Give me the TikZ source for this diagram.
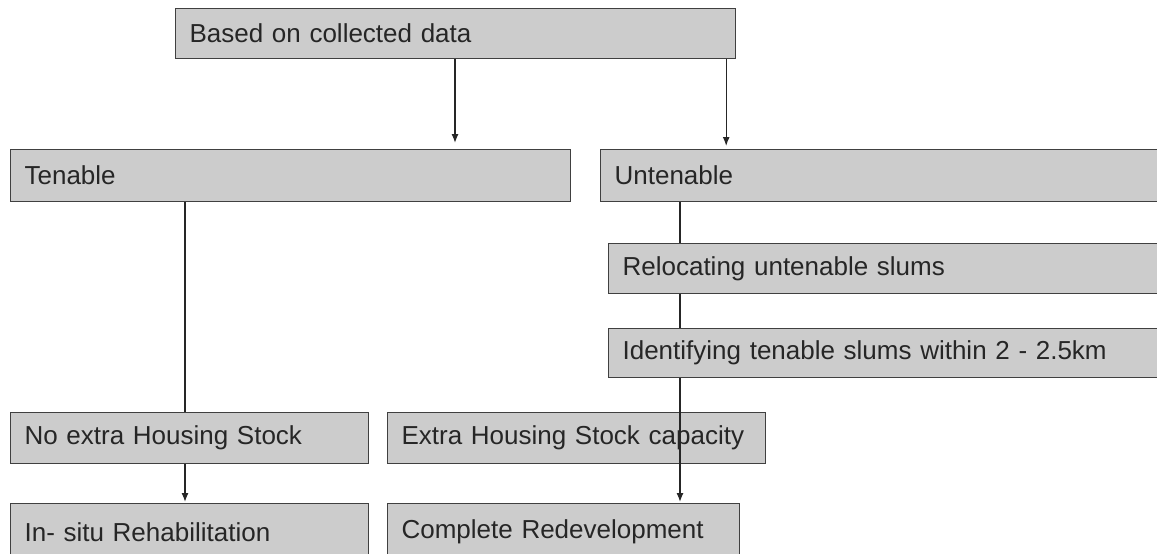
\documentclass[tikz,border=0pt]{standalone}
\usepackage{fontspec}
\setmainfont{Liberation Sans}
\usetikzlibrary{arrows.meta}

\tikzset{
  box/.style={draw=black!75, fill=black!20, line width=1.2pt, anchor=north west,
    inner xsep=14pt, inner ysep=0pt, align=left, text=black!85,
    font=\fontsize{26}{30}\selectfont},
  link/.style={draw=black!85, line width=1.3pt},
  arr/.style={link, -{Latex[length=9pt,width=7pt]}, shorten >=1pt}
}

\begin{document}
\begin{tikzpicture}[x=1pt,y=-1pt]
        \clip (0,0) rectangle (1157,554);
        \fill[white] (0,0) rectangle (1157,554);
        \node[box, text width=532pt, minimum height=50pt] (data) at (175,8) {Based on collected data};
        \node[box, text width=532pt, minimum height=52pt] (tenable) at (10,149) {Tenable};
        \node[box, text width=560pt, minimum height=52pt] (untenable) at (600,149) {Untenable};
        \node[box, text width=560pt, minimum height=50pt] (reloc) at (608,243) {Relocating untenable slums};
        \node[box, text width=560pt, minimum height=49pt] (ident) at (608,328) {Identifying tenable slums within 2 - 2.5km};
        \node[box, text width=330pt, minimum height=51pt] (noextra) at (10,412) {No extra Housing Stock};
        \node[box, text width=350pt, minimum height=51pt] (extra) at (387,412) {Extra Housing Stock capacity};
        \node[box, text width=330pt, minimum height=57pt] (insitu) at (10,503) {In- situ Rehabilitation};
        \node[box, text width=324pt, minimum height=57pt] (complete) at (387,503) {Complete Redevelopment};
        \draw[arr] ([xshift=280pt]data.south west) -- ([xshift=280pt,yshift=5pt]data.south west |- tenable.north);
        \draw[arr] ([xshift=-10pt]data.south east) -- ([xshift=-10pt,yshift=2pt]data.south east |- untenable.north);
        \draw[link] ([xshift=175pt]tenable.south west) -- ([xshift=175pt]tenable.south west |- noextra.north);
        \draw[arr] ([xshift=175pt]noextra.south west) -- ([xshift=175pt]noextra.south west |- insitu.north);
        \draw[link] ([xshift=80pt]untenable.south west) -- ([xshift=80pt]untenable.south west |- reloc.north);
        \draw[link] ([xshift=72pt]reloc.south west) -- ([xshift=72pt]reloc.south west |- ident.north);
        \draw[arr] ([xshift=72pt]ident.south west) -- ([xshift=72pt]ident.south west |- complete.north);
      \end{tikzpicture}
\end{document}
